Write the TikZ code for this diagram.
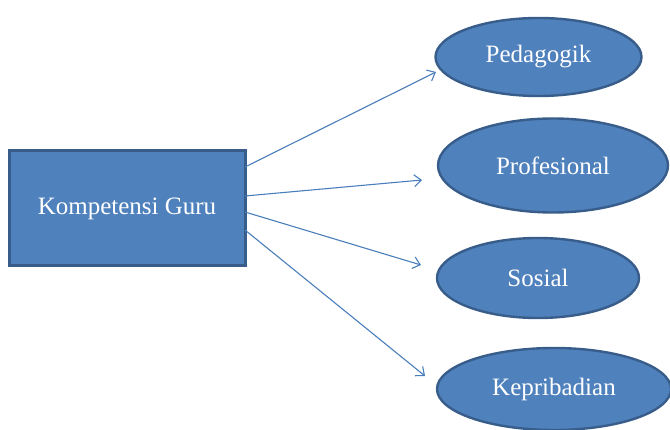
\documentclass[tikz,border=0pt]{standalone}
\usepackage{fontspec}
\setmainfont{Liberation Serif}
\usetikzlibrary{shapes.geometric,arrows.meta}
\definecolor{boxfill}{HTML}{4F81BD}
\definecolor{boxline}{HTML}{385D8A}
\definecolor{arrowc}{HTML}{4A7EBB}
\begin{document}
\begin{tikzpicture}[x=1pt,y=-1pt,
  mainbox/.style={draw=boxline,line width=3pt,fill=boxfill,minimum width=236pt,minimum height=115pt,inner sep=0pt,text=white,font=\fontsize{25}{28}\selectfont},
  oval/.style={ellipse,draw=boxline,line width=2.4pt,fill=boxfill,inner sep=0pt,text=white,font=\fontsize{25}{28}\selectfont},
  conn/.style={draw=arrowc,line width=1.1pt,-{Straight Barb[length=7pt,width=12pt,line width=1.1pt]}}]
\useasboundingbox (0,0) rectangle (670,430);
\node[mainbox] (guru) at (127,208.5) {Kompetensi Guru};
\node[oval,minimum width=206pt,minimum height=78pt] (ped) at (538.5,57) {Pedagogik};
\node[oval,minimum width=230pt,minimum height=94pt] (pro) at (553,165.5) {Profesional};
\node[oval,minimum width=202pt,minimum height=80pt] (sos) at (538,278) {Sosial};
\node[oval,minimum width=234pt,minimum height=82pt] (kep) at (554,389) {Kepribadian};
\coordinate (a1) at (245,167);
\coordinate (a2) at (245,196);
\coordinate (a3) at (245,212);
\coordinate (a4) at (245,230);
\coordinate (e1) at (436,72);
\coordinate (e2) at (422,180);
\coordinate (e3) at (421,265);
\coordinate (e4) at (425,376);
\draw[conn] (a1) -- (e1);
\draw[conn] (a2) -- (e2);
\draw[conn] (a3) -- (e3);
\draw[conn] (a4) -- (e4);
\end{tikzpicture}
\end{document}
